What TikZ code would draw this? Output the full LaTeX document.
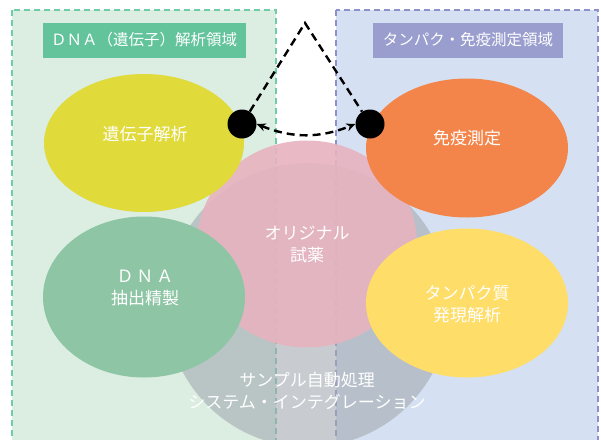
\documentclass[tikz,border=0pt]{standalone}
\usepackage{fontspec}
\setmainfont{Noto Sans CJK JP}
\usepackage{xcolor}
\usetikzlibrary{positioning, arrows.meta, shapes.geometric}

\definecolor{dnaarea}{HTML}{DCEDE2}
\definecolor{dnaedge}{HTML}{6FCBA8}
\definecolor{dnahead}{HTML}{63C49C}
\definecolor{protarea}{HTML}{D5E1F2}
\definecolor{protedge}{HTML}{8C91CC}
\definecolor{prothead}{HTML}{9A9ECF}
\definecolor{geneyel}{HTML}{E0DA3A}
\definecolor{immorange}{HTML}{F4854A}
\definecolor{prepgreen}{HTML}{8DC5A5}
\definecolor{protyel}{HTML}{FEDD68}
\definecolor{reagpink}{HTML}{E7B3BF}
\definecolor{samplegray}{HTML}{A3AAB0}

\begin{document}
\begin{tikzpicture}[x=1pt, y=-1pt,
    blob/.style={ellipse, inner sep=0pt},
    txt/.style={text=white, align=center, font=\fontsize{17}{22}\selectfont},
    head/.style={text=white, inner sep=0pt, minimum height=35pt, font=\fontsize{15.5}{18}\selectfont},
    dot/.style={circle, fill=black, minimum size=29pt, inner sep=0pt},
    link/.style={line width=2.4pt, dash pattern=on 8pt off 5pt}]
        \useasboundingbox (0,0) rectangle (601,439);
        \clip (0,0) rectangle (601,439);

        % Define the areas
        \draw[dnaedge, fill=dnaarea, line width=1.4pt, dash pattern=on 6pt off 4pt] (12,10) rectangle (276,450);
        \draw[protedge, fill=protarea, line width=1.4pt, dash pattern=on 6pt off 4pt] (336,10) rectangle (598,450);
        \node[head, fill=dnahead, minimum width=203pt] (dnahd) at (144,40) {ＤＮＡ（遺伝子）解析領域};
        \node[head, fill=prothead, minimum width=190pt] (prothd) at (468,40) {タンパク・免疫測定領域};

        % Define the core
        \node[circle, fill=samplegray, fill opacity=0.6, minimum size=284pt, inner sep=0pt] (sample) at (308,305) {};
        \node[blob, fill=reagpink, fill opacity=0.9, text opacity=1, minimum width=220pt, minimum height=207pt, txt] (reagent) at (307,244) {オリジナル\\試薬};
        \node[txt] (sampletxt) at (307,391) {サンプル自動処理\\システム・インテグレーション};

        % Define the fields
        \node[blob, fill=geneyel, minimum width=200pt, minimum height=138pt] (gene) at (144,143) {};
        \node[blob, fill=prepgreen, minimum width=202pt, minimum height=161pt] (dnaprep) at (144,297) {};
        \node[blob, fill=immorange, minimum width=202pt, minimum height=139pt] (immuno) at (467,148) {};
        \node[blob, fill=protyel, minimum width=202pt, minimum height=149pt] (protein) at (467,303) {};
        \node[txt] (genetxt) at (145,134) {遺伝子解析};
        \node[txt] (dnapreptxt) at (145,288) {Ｄ\,Ｎ\,Ａ\\抽出精製};
        \node[txt] (immunotxt) at (467,138) {免疫測定};
        \node[txt] (proteintxt) at (467,304) {タンパク質\\発現解析};

        % Define the links
        \node[dot] (dotl) at (242,124) {};
        \node[dot] (dotr) at (370,124) {};
        \coordinate (apex) at (305,23);
        \draw[link] (dotl) -- (apex) -- (dotr);
        \draw[link, {Stealth[length=9pt, width=8pt]}-{Stealth[length=9pt, width=8pt]}] (dotl.east) to[bend right=22] (dotr.west);
    \end{tikzpicture}
\end{document}
